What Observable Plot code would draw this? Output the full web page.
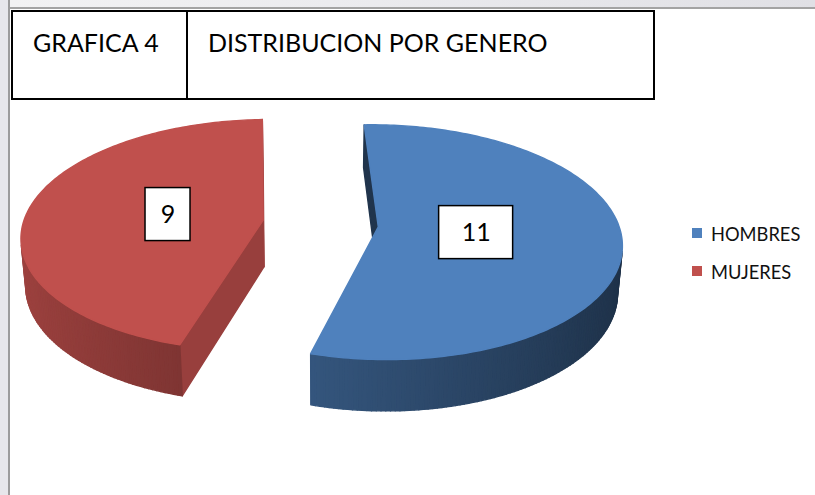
<!DOCTYPE html>
<html><head><meta charset="utf-8">
<script src="https://cdn.jsdelivr.net/npm/d3@7"></script>
<script src="https://cdn.jsdelivr.net/npm/@observablehq/plot@0.6"></script>
<style>
body{margin:0;background:#fff;font-family:Lato,"Open Sans",sans-serif;}
#wrap{position:relative;width:815px;height:495px;overflow:hidden;background:#fff;}
#chart{position:absolute;left:0;top:0;}
.topbar{position:absolute;left:10px;top:0;width:805px;height:7px;background:linear-gradient(to right,#f2f2f3,#ececef 40%,#e0e0e5);border-bottom:2px solid #a3a3a3;}
.leftbar{position:absolute;left:0;top:0;width:8px;height:495px;background:#e7e7eb;border-right:2px solid #9c9c9c;}
.tbox{position:absolute;left:11px;top:10px;width:644px;height:90px;border:2px solid #000;box-sizing:border-box;}
.tdiv{position:absolute;left:186px;top:10px;width:2px;height:90px;background:#000;}
.ttext{position:absolute;font-size:25px;line-height:1;color:#000;white-space:nowrap;}
.lsq{position:absolute;width:10px;height:10px;}
.ltext{position:absolute;font-size:18.3px;line-height:1;color:#111;white-space:nowrap;}
</style></head>
<body>
<div id="wrap">
  <div id="chart"></div>
  <div class="topbar"></div>
  <div class="leftbar"></div>
  <div class="tbox"></div>
  <div class="tdiv"></div>
  <div class="ttext" style="left:33px;top:30px;">GRAFICA 4</div>
  <div class="ttext" style="left:208px;top:30px;">DISTRIBUCION POR GENERO</div>
  <div id="legend"></div>
</div>
<script>
// ---- data ----
const categories = ["HOMBRES", "MUJERES"];
const values = [11, 9];
const colors = ["#4F81BD", "#C0504D"];
const labels = ["11", "9"];

// ---- 3D pie geometry (style parameters) ----
const W = 815, H = 495;
const R = 240, EXPLODE = 58, THICK = 54, ELEV = 28.5 * Math.PI / 180, DIST = 1625;
const OX = 320, OY = 223, ROT = -2 * Math.PI / 180, LABEL_R = 0.405 * R;
const sinE = Math.sin(ELEV), cosE = Math.cos(ELEV);
function proj(X, Y, Z) {
  const v = -Y * cosE + Z * sinE, w = Z * cosE + Y * sinE, s = DIST / (DIST - w);
  return [OX + X * s, OY + v * s];
}
function shade(c, f) { const r = d3.rgb(c); return d3.rgb(r.r * f, r.g * f, r.b * f).formatHex(); }
function area(p) { let a = 0; for (let i = 0; i < p.length; i++) { const [x1, y1] = p[i], [x2, y2] = p[(i + 1) % p.length]; a += x1 * y2 - x2 * y1; } return a / 2; }

const rows = categories.map((c, i) => ({category: c, value: values[i], color: colors[i], label: labels[i]}));
const arcs = d3.pie().sort(null).value(d => d.value)(rows);

const slices = [];
const labelRows = [];
arcs.forEach((a) => {
  const a0 = a.startAngle + ROT, a1 = a.endAngle + ROT, bis = (a0 + a1) / 2;
  const ex = EXPLODE * Math.sin(bis), ez = -EXPLODE * Math.cos(bis);
  const rim = (t, Y) => proj(ex + R * Math.sin(t), Y, ez - R * Math.cos(t));
  const apex = Y => proj(ex, Y, ez);
  const base = a.data.color;
  const list = [];
  const startFace = [apex(0), rim(a0, 0), rim(a0, -THICK), apex(-THICK)];
  const endFace = [rim(a1, 0), apex(0), apex(-THICK), rim(a1, -THICK)];
  [[startFace, a0 - Math.PI / 2], [endFace, a1 + Math.PI / 2]].forEach(([p, n]) => {
    if (area(p) < 0) list.push({pts: p, fill: shade(base, 0.6 + 0.2 * Math.sin(n))});
  });
  const n = Math.ceil((a1 - a0) / (Math.PI / 180));
  for (let k = 0; k < n; k++) {
    const t1 = a0 + (a1 - a0) * k / n, t2 = a0 + (a1 - a0) * (k + 1) / n;
    const p = [rim(t1, 0), rim(t2, 0), rim(t2, -THICK), rim(t1, -THICK)];
    if (area(p) < 0) list.push({pts: p, fill: shade(base, 0.6 - 0.22 * Math.sin((t1 + t2) / 2))});
  }
  const top = [apex(0)];
  for (let k = 0; k <= n; k++) top.push(rim(a0 + (a1 - a0) * k / n, 0));
  list.push({pts: top, fill: base});
  slices.push(list);
  const [lx, ly] = proj(ex + LABEL_R * Math.sin(bis), 0, ez - LABEL_R * Math.cos(bis));
  const bw = 16 + 29 * a.data.label.length, bh = 53;
  labelRows.push({x: lx, y: ly, x1: lx - bw / 2, x2: lx + bw / 2, y1: ly - bh / 2, y2: ly + bh / 2, text: a.data.label});
});

const pts = [];
let fid = 0;
slices.slice().reverse().forEach(list => list.forEach(f => {
  fid++;
  f.pts.forEach(([x, y]) => pts.push({id: fid, x, y, fill: f.fill}));
}));

const chart = Plot.plot({
  width: W, height: H, margin: 0,
  x: {domain: [0, W], range: [0, W], axis: null},
  y: {domain: [0, H], range: [0, H], axis: null},
  color: {type: "identity"},
  marks: [
    Plot.line(pts, {x: "x", y: "y", z: "id", fill: "fill", stroke: "fill", strokeWidth: 1.4, strokeLinejoin: "round", curve: "linear-closed"}),
    Plot.rect(labelRows, {x1: "x1", x2: "x2", y1: "y1", y2: "y2", fill: "white", stroke: "black", strokeWidth: 1.5}),
    Plot.text(labelRows, {x: "x", y: "y", text: "text", fontSize: 25, fontFamily: "Lato", fill: "#000"})
  ]
});
document.getElementById("chart").appendChild(chart);

// legend
const leg = document.getElementById("legend");
categories.forEach((c, i) => {
  const sq = document.createElement("div");
  sq.className = "lsq";
  sq.style.left = "692px"; sq.style.top = (228 + i * 37.5) + "px"; sq.style.background = colors[i];
  leg.appendChild(sq);
  const t = document.createElement("div");
  t.className = "ltext";
  t.style.left = "711px"; t.style.top = (225 + i * 37.5) + "px";
  t.textContent = c;
  leg.appendChild(t);
});
</script>
</body></html>
